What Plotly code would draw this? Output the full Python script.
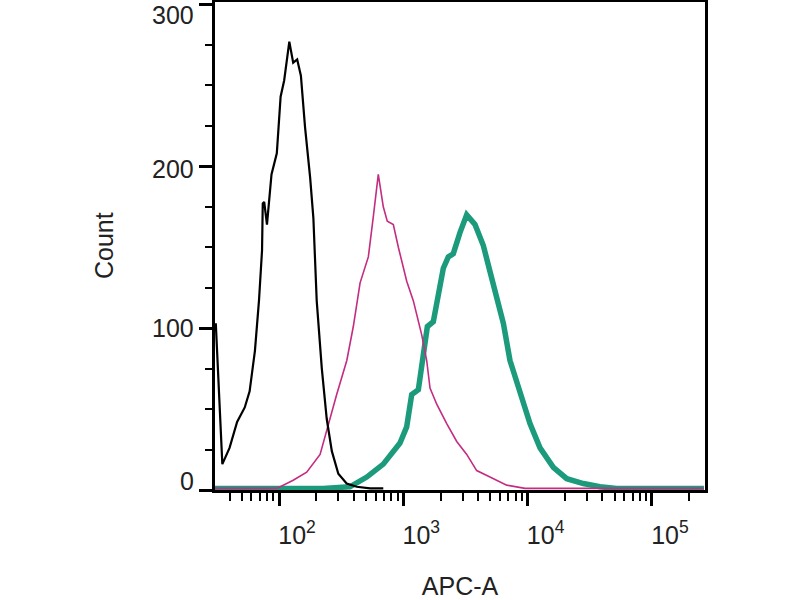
import plotly.graph_objects as go

# APC-A intensity (linear units) and event counts
black_x = [31, 35, 40, 46, 53, 58, 64, 69, 73, 74, 76, 80, 87, 96, 103, 110,
           121, 130, 140, 150, 162, 178, 189, 195, 201, 221, 242, 266, 300,
           350, 422, 540, 690]
black_y = [103, 16, 26, 42, 51, 61, 86, 117, 148, 177, 178, 164, 195, 208,
           243, 253, 277, 264, 266, 256, 224, 193, 168, 142, 117, 75, 44, 24,
           10, 4, 2, 1, 1]

magenta_x = [30, 96, 130, 167, 214, 250, 291, 351, 396, 449, 523, 574, 629,
             690, 743, 831, 912, 1065, 1203, 1405, 1542, 1640, 1857, 2234,
             2690, 3237, 3893, 4978, 6787, 9530, 262000]
magenta_y = [1, 1, 6, 11, 22, 41, 59, 80, 101, 128, 144, 169, 195, 175, 166,
             164, 150, 129, 117, 96, 80, 63, 53, 41, 30, 22, 12, 8, 3, 1, 1]

teal_x = [30, 227, 372, 508, 690, 940, 1064, 1168, 1321, 1449, 1561, 1743,
          1913, 2098, 2301, 2524, 2856, 3234, 3773, 4403, 4980, 5637, 6380,
          7215, 8166, 9233, 10446, 12580, 16100, 20640, 28070, 38200, 52100,
          262000]
teal_y = [1, 1, 2, 8, 16, 29, 39, 59, 62, 84, 101, 104, 121, 137, 144, 146,
          159, 170, 164, 151, 135, 119, 103, 80, 67, 53, 41, 26, 14, 7, 4, 2,
          1, 1]

x_major = [100, 1000, 10000, 100000]
x_labels = ["10<sup>2</sup>", "10<sup>3</sup>", "10<sup>4</sup>", "10<sup>5</sup>"]
x_minor = [k * 10 ** d for d in range(1, 6) for k in range(2, 10)
           if 30 <= k * 10 ** d <= 262144]

y_major = [0, 100, 200, 300]
y_labels = ["0", "100", "200", "300"]
# end labels are pulled inside the axis, like the cytometer software does
y_label_shift = [9, 0, -3, -11]

font = "Liberation Sans, Arial, sans-serif"

fig = go.Figure()

fig.add_trace(go.Scatter(
    x=teal_x, y=teal_y, mode="lines",
    line=dict(color="#1c9a7c", width=5.5),
    hoverinfo="skip", showlegend=False
))
fig.add_trace(go.Scatter(
    x=magenta_x, y=magenta_y, mode="lines",
    line=dict(color="#c42c80", width=1.6),
    hoverinfo="skip", showlegend=False
))
fig.add_trace(go.Scatter(
    x=black_x, y=black_y, mode="lines",
    line=dict(color="black", width=2.2),
    hoverinfo="skip", showlegend=False
))

for val, lab, dy in zip(y_major, y_labels, y_label_shift):
    fig.add_annotation(
        x=0, xref="paper", y=val, yref="y",
        text=lab, showarrow=False,
        xanchor="right", yanchor="middle",
        xshift=-19, yshift=dy,
        font=dict(size=25, color="#222"),
    )

fig.add_annotation(
    x=0, xref="paper", y=0.5, yref="paper",
    text="Count", showarrow=False, textangle=-90,
    xanchor="center", yanchor="middle", xshift=-111,
    font=dict(size=25, color="#222"),
)

fig.update_layout(
    width=800, height=600,
    margin=dict(l=215, r=95, t=2, b=110),
    paper_bgcolor="white",
    plot_bgcolor="white",
    font=dict(family=font, size=25, color="#222"),
    showlegend=False,
    xaxis=dict(
        type="log",
        range=[1.485, 5.427],
        automargin=False,
        tickvals=x_major, ticktext=x_labels,
        ticks="outside", ticklen=13, tickwidth=3, tickcolor="black",
        ticklabelshift=18, ticklabelstandoff=8,
        minor=dict(tickvals=x_minor, ticks="outside", ticklen=8,
                   tickwidth=2, tickcolor="black"),
        showline=True, linecolor="black", linewidth=2.5, mirror=True,
        showgrid=False, zeroline=False,
        title=dict(text="APC-A", standoff=34, font=dict(size=25)),
    ),
    yaxis=dict(
        range=[0, 301.5],
        automargin=False,
        tickvals=y_major, showticklabels=False,
        ticks="outside", ticklen=13, tickwidth=3, tickcolor="black",
        minor=dict(dtick=25, ticks="outside", ticklen=7,
                   tickwidth=2, tickcolor="black"),
        showline=True, linecolor="black", linewidth=2.5, mirror=True,
        showgrid=False, zeroline=False,
    ),
)

# drop the browser's default page margin so the figure sits at 0,0
fig.write_html("out.html", config={"displayModeBar": False},
               post_script="document.body.style.margin='0';")
